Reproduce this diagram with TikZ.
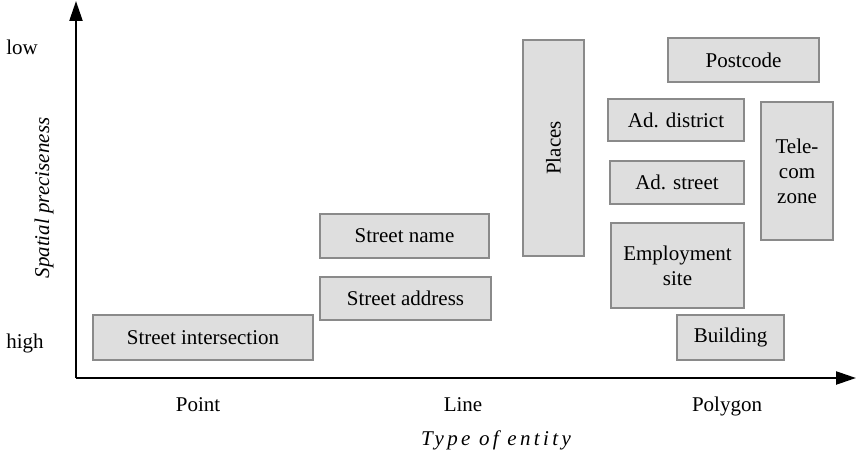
\documentclass[tikz,border=0pt]{standalone}
\usepackage{fontspec}
\setmainfont{Liberation Serif}
\usetikzlibrary{arrows.meta}
\definecolor{boxfill}{HTML}{DEDEDE}
\definecolor{boxline}{HTML}{8A8A8A}
\tikzset{
  catbox/.style={draw=boxline, fill=boxfill, line width=1.5pt, inner sep=0pt,
    align=center, font=\fontsize{21}{25}\selectfont},
  axisline/.style={line width=2.3pt, -{Triangle[length=20pt,width=13pt]}},
  axislabel/.style={font=\fontsize{21}{25}\selectfont, inner sep=0pt, anchor=base},
  axistitle/.style={font=\fontsize{21}{25}\selectfont\itshape, inner sep=0pt}
}
\begin{document}
\begin{tikzpicture}[x=1pt,y=-1pt]
\useasboundingbox (0,0) rectangle (859,452);

% axes
\coordinate (origin) at (76,378);
\coordinate (ytip) at (76,1);
\coordinate (xtip) at (856,378);
\draw[axisline] (origin) -- (ytip);
\draw[axisline] (origin) -- (xtip);

% axis labels
\node[axislabel] (low) at (22,55) {low};
\node[axislabel] (high) at (25,348) {high};
\node[axislabel] (point) at (198,411) {Point};
\node[axislabel] (line) at (463,411) {Line};
\node[axislabel] (polygon) at (727,411) {Polygon};
\node[axistitle, rotate=90] (ytitle) at (44,198) {Spatial preciseness};
\node[axistitle, anchor=base] (xtitle) at (496,445) {\addfontfeature{LetterSpace=16}Type of entity};

% categories
\node[catbox, minimum width=220pt, minimum height=45pt] (inter) at (203,337.5) {Street intersection};
\node[catbox, minimum width=171pt, minimum height=43pt] (addr) at (405.5,298.5) {Street address};
\node[catbox, minimum width=169pt, minimum height=44pt] (sname) at (404.5,236) {Street name};
\node[catbox, minimum width=61pt, minimum height=216pt] (places) at (553.5,148) {};
\node[rotate=90, font=\fontsize{21}{25}\selectfont] (placestext) at (places.center) {Places};
\node[catbox, minimum width=151pt, minimum height=44pt] (postcode) at (743.5,60) {Postcode};
\node[catbox, minimum width=136pt, minimum height=42pt] (district) at (676,120) {Ad. district};
\node[catbox, minimum width=134pt, minimum height=43pt] (adstreet) at (677,182.5) {Ad. street};
\node[catbox, minimum width=133pt, minimum height=85pt] (employ) at (677.5,265.5) {Employment\\site};
\node[catbox, minimum width=72pt, minimum height=138pt] (telecom) at (797,171) {Tele-\\com\\zone};
\node[catbox, minimum width=107pt, minimum height=45pt] (building) at (730.5,337.5) {Building};
\end{tikzpicture}
\end{document}
